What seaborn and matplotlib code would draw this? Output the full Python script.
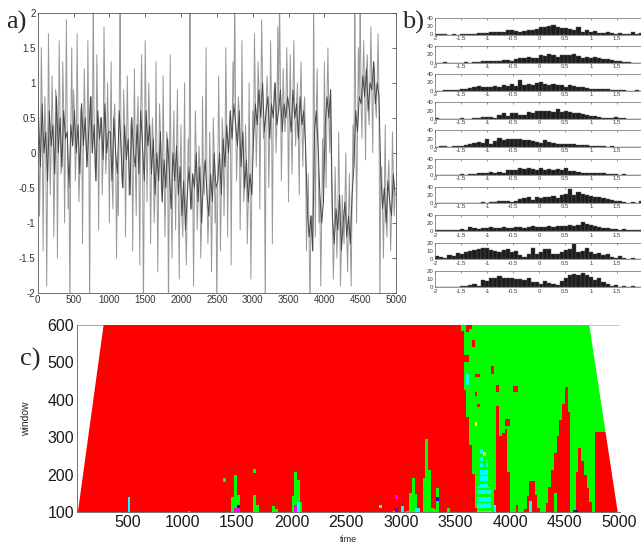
import numpy as np
import pandas as pd
import matplotlib
matplotlib.use('Agg')
import matplotlib.pyplot as plt
from matplotlib.colors import ListedColormap, BoundaryNorm
import seaborn as sns

sns.set_theme(style='white')
plt.rcParams['font.family'] = ['Liberation Sans', 'DejaVu Sans']
plt.rcParams['axes.unicode_minus'] = False

# ---------------- panel a: signal ----------------
# outer samples (every 25 time steps, at t = 0, 25, 50, ...)
seg0 = [1.2, -0.9, 1.5, -1.4, 0.8, -1.9, 1.7, -0.6, 1.1, -1.2, 0.9, -1.5, 1.6, -0.3, 1.3, -1.0, 1.9, -0.8, -2.3, 1.5]
seg1 = [0.9, -0.4, 1.7, -0.7, 0.6, -1.3, 1.2, 0.1, 1.6, -2.3, 0.8, 2.3, -0.2, 1.4, -1.1, 0.5, -0.6, 1.8, -0.3, 1.0]
seg2 = [-1.0, 1.3, -0.8, 0.7, -1.5, -0.9, 2.3, -0.4, 0.9, -1.2, 1.1, -0.6, 0.4, -1.4, 1.2, -0.9, 0.8, -1.6, 1.4, -2.3]
seg3 = [1.6, -0.7, 1.0, -1.3, 0.5, -1.0, 1.3, -1.7, 0.7, -0.5, 1.1, -1.2, 0.3, -2.3, 1.4, -1.5, 0.6, -1.1, 0.9, -1.8]
seg4 = [0.4, -1.2, 1.0, -1.6, 0.2, 2.3, -0.8, -1.9, 0.6, -1.1, 0.1, -1.5, 0.8, -0.6, 1.5, -1.3, 0.3, -1.7, 0.5, -1.0]
seg5 = [-2.3, 1.1, -1.4, 0.5, -0.9, 1.5, -1.2, 0.2, -1.6, 1.3, 2.3, -0.4, 0.8, -1.1, 1.6, -0.7, 0.4, -1.3, 1.0, -1.8]
seg6 = [0.6, 1.7, -0.2, 1.3, -0.8, 1.9, 0.2, -2.3, 1.1, -0.5, 1.6, -1.3, 0.9, 0.0, 1.8, 2.3, -0.4, 1.2, 0.3, 1.5]
seg7 = [-0.7, 1.4, -0.3, 1.6, 0.1, 1.0, -0.6, 1.3, -0.2, 0.8, -1.4, -0.3, -2.3, -0.9, 2.3, -1.2, 1.2, -1.0, -1.9, 0.2]
seg8 = [1.3, -0.5, 1.5, 0.0, -0.4, -1.8, -0.2, -1.5, 0.3, -1.9, -0.6, -1.3, 0.0, -1.7, -0.3, -1.9, 0.4, 2.3, -1.0, 1.5]
seg9 = [2.3, 0.2, 1.6, -0.1, 1.4, 0.4, 1.8, 0.0, 1.2, 0.5, 1.7, -2.3, -0.2, -1.5, 0.4, -1.2, -0.1, -1.4, 0.3, -0.9]
# core samples (at t = 12.5, 37.5, ...)
mid0 = [0.5, -0.2, 0.7, 0.0, 0.3, -0.4, 0.6, 0.1, 0.4, -0.3, 0.8, 0.0, 0.5, -0.2, 0.6, 0.2, 0.3, -0.5, 0.4, 0.1]
mid1 = [0.6, 0.0, 0.4, -0.3, 0.7, 0.1, 0.5, -0.2, 0.3, 0.8, 0.0, 0.4, -0.4, 0.6, 0.2, 0.5, -0.1, 0.7, 0.0, 0.3]
mid2 = [0.3, -0.4, 0.5, 0.0, -0.3, 0.6, 0.1, -0.5, 0.4, -0.1, 0.2, -0.6, 0.5, 0.0, -0.2, 0.4, -0.3, 0.6, 0.1, -0.4]
mid3 = [0.6, 0.1, 0.4, -0.3, 0.2, -0.6, 0.0, -0.4, 0.3, -0.7, -0.1, -0.5, 0.2, -0.3, -0.8, 0.0, -0.4, 0.1, -0.6, -0.2]
mid4 = [-0.9, -0.4, -1.1, -0.6, -0.2, -0.8, -0.3, -0.5, 0.0, -0.7, -0.2, -1.0, -0.4, -0.1, -0.6, -0.9, -0.3, -0.7, 0.0, -0.5]
mid5 = [-0.4, 0.0, -0.6, 0.2, -0.2, 0.4, 0.0, 0.6, 0.2, 0.7, 0.4, 0.1, 0.6, -0.2, 0.3, -0.5, -0.1, -0.7, -0.3, -0.6]
mid6 = [0.2, 0.7, 0.4, 0.9, 0.5, 1.0, 0.3, 0.6, 0.8, 0.2, 0.7, 0.5, 1.0, 0.4, 0.6, 0.9, 0.3, 0.7, 0.5, 0.8]
mid7 = [0.6, 0.3, 0.9, 0.5, 0.7, 0.2, 0.8, 0.4, 0.6, 0.1, -0.8, -1.2, -0.9, -1.4, 0.3, 0.6, 0.1, -0.6, -1.0, -0.7]
mid8 = [0.4, 0.8, 0.5, 0.9, -0.9, -1.3, -0.8, -1.1, -0.6, -1.4, -1.0, -0.7, -1.2, -0.9, -1.3, -0.6, -0.2, 0.6, 0.3, 0.8]
mid9 = [0.7, 1.1, 0.8, 1.2, 0.6, 1.0, 0.9, 1.3, 0.7, 1.0, 0.8, -0.3, -0.8, -0.5, -1.0, -0.4, -0.7, -0.9, -0.3, -0.6]
outer = seg0 + seg1 + seg2 + seg3 + seg4 + seg5 + seg6 + seg7 + seg8 + seg9
core = mid0 + mid1 + mid2 + mid3 + mid4 + mid5 + mid6 + mid7 + mid8 + mid9
signal = [v for pair in zip(outer, core) for v in pair]
sample_step = 12.5
time_a = [i * sample_step for i in range(len(signal))]
time_core = time_a[1::2]

# ---------------- panel b: histogram counts (50 bins from -2 to 2) ----------------
hist_counts = [
    [2, 1, 1, 0, 1, 0, 2, 2, 1, 2, 3, 3, 4, 5, 5, 6, 5, 10, 10, 8, 7, 9, 12, 10, 14,
     19, 17, 20, 22, 17, 15, 16, 14, 12, 17, 7, 10, 5, 9, 4, 4, 5, 3, 2, 4, 1, 1, 5, 2, 3],
    [0, 0, 1, 0, 0, 0, 0, 1, 0, 1, 2, 3, 4, 3, 5, 4, 6, 7, 5, 8, 10, 11, 14, 12, 10,
     18, 17, 20, 19, 14, 18, 18, 19, 20, 16, 12, 14, 10, 13, 11, 9, 8, 6, 4, 3, 2, 1, 0, 0, 0],
    [0, 0, 1, 1, 2, 2, 4, 3, 6, 8, 12, 10, 8, 10, 12, 9, 14, 11, 16, 12, 25, 13, 17, 15, 18,
     20, 17, 15, 16, 14, 15, 10, 14, 11, 9, 8, 6, 4, 5, 3, 4, 3, 2, 1, 1, 1, 0, 0, 1, 0],
    [1, 0, 0, 0, 0, 0, 2, 0, 0, 2, 3, 4, 5, 4, 3, 9, 13, 8, 15, 14, 10, 9, 16, 14, 18,
     19, 20, 18, 16, 24, 17, 20, 16, 14, 15, 11, 9, 7, 6, 4, 3, 2, 3, 4, 1, 1, 0, 0, 0, 0],
    [0, 1, 1, 0, 1, 2, 3, 5, 7, 9, 12, 10, 19, 8, 14, 22, 17, 20, 19, 19, 18, 16, 17, 15, 13,
     10, 17, 12, 9, 8, 7, 6, 7, 8, 5, 4, 5, 2, 3, 1, 2, 0, 1, 0, 0, 0, 0, 0, 0, 0],
    [0, 0, 1, 0, 1, 1, 2, 1, 3, 3, 5, 6, 5, 7, 6, 8, 6, 12, 11, 12, 17, 15, 18, 14, 12,
     18, 13, 15, 12, 14, 11, 16, 9, 10, 7, 6, 5, 6, 4, 4, 4, 3, 2, 2, 1, 2, 1, 0, 1, 0],
    [0, 0, 1, 0, 0, 0, 1, 1, 0, 1, 0, 2, 1, 2, 2, 4, 6, 5, 3, 6, 10, 12, 15, 8, 14,
     12, 16, 14, 18, 12, 20, 22, 35, 20, 26, 22, 19, 18, 15, 14, 12, 10, 8, 6, 4, 3, 1, 2, 0, 6],
    [3, 2, 3, 4, 2, 3, 5, 4, 10, 7, 5, 7, 8, 9, 7, 8, 9, 7, 8, 9, 10, 8, 9, 12, 10,
     9, 10, 12, 11, 13, 12, 13, 14, 12, 15, 22, 17, 14, 13, 11, 8, 7, 6, 5, 4, 5, 4, 3, 3, 2],
    [4, 3, 2, 5, 4, 8, 7, 9, 10, 11, 12, 14, 14, 11, 10, 9, 11, 12, 9, 10, 5, 3, 6, 14, 7,
     9, 13, 13, 7, 6, 9, 11, 12, 19, 9, 10, 14, 9, 7, 8, 5, 6, 3, 2, 4, 1, 0, 1, 0, 0],
    [0, 0, 0, 0, 0, 0, 2, 2, 3, 4, 2, 9, 8, 11, 12, 14, 12, 11, 12, 10, 10, 9, 11, 7, 6,
     4, 8, 5, 4, 3, 8, 12, 15, 16, 15, 17, 15, 13, 9, 12, 6, 4, 2, 3, 1, 2, 1, 2, 0, 0],
]
hist_ymax = [40, 40, 40, 40, 40, 40, 40, 40, 20, 20]
hist_edges = [round(-2 + 0.08 * k, 2) for k in range(51)]
hist_centers = [round(-1.96 + 0.08 * k, 2) for k in range(50)]

# ---------------- panel c: regime map description ----------------
trap_w = [100, 600]
trap_left = [40, 275]
trap_right = [4980, 4720]
bnd_w = [100, 212, 346, 434, 600]          # red -> green boundary
bnd_t = [3690, 3660, 3615, 3585, 3560]
# (peak time, peak window, base left, base right) at window 100
red_spikes = [(3890, 400, 3842, 3960), (3950, 380, 3900, 4010), (4200, 200, 4132, 4269),
              (4530, 466, 4324, 4558), (4620, 298, 4604, 4757)]
red_block = (4772, 314)                    # t >= 4772 and window <= 314
green_spikes = [(1070, 108, 1060, 1085), (1490, 205, 1445, 1530), (1665, 150, 1640, 1700),
                (1845, 125, 1825, 1870), (2045, 225, 1995, 2100), (2950, 115, 2935, 2965),
                (3110, 195, 3060, 3165), (3240, 305, 3190, 3290), (3335, 170, 3310, 3360)]
cyan_spikes = [(3745, 330, 3715, 3780), (3790, 250, 3760, 3830), (3720, 200, 3695, 3755)]
# specks: (time, window from, window to, category)
specks = [(3620, 580, 600, 0), (3660, 540, 560, 0), (3600, 500, 520, 0), (3700, 460, 470, 0),
          (3830, 470, 490, 0), (3890, 420, 440, 0), (3680, 410, 420, 0), (3720, 380, 390, 0),
          (3975, 330, 350, 0), (4050, 420, 435, 0), (3640, 590, 600, 0), (3580, 560, 575, 1),
          (3870, 160, 260, 1), (4420, 100, 150, 1), (4070, 100, 120, 0),
          (1390, 180, 190, 1), (1665, 205, 215, 1), (3440, 100, 110, 1),
          (520, 100, 140, 2), (2060, 100, 125, 2), (3610, 440, 470, 2), (3870, 100, 120, 2),
          (4180, 100, 130, 2), (2810, 110, 120, 2), (3020, 100, 115, 2), (3150, 100, 110, 2),
          (2040, 100, 120, 4), (1500, 100, 110, 4), (2960, 135, 145, 4),
          (1505, 110, 120, 3), (2965, 100, 110, 3), (3330, 130, 140, 3), (4600, 100, 105, 3),
          (3690, 330, 340, 5), (3770, 250, 260, 5)]
regime_colors = ['#ff0000', '#00ff00', '#00ffff', '#1010c0', '#ff00ff', '#ffff00']

# build category grid
t_edges = np.arange(0, 5026, 25)
w_edges = np.arange(100, 601, 2)
tc = (t_edges[:-1] + t_edges[1:]) / 2
wc = (w_edges[:-1] + w_edges[1:]) / 2
T, W = np.meshgrid(tc, wc)
cat = np.zeros(T.shape)
cat[T > np.interp(W, bnd_w, bnd_t)] = 1


def tri_mask(pt, pw, bl, br):
    f = np.clip((W - 100) / (pw - 100), 0, None)
    lo = bl + (pt - bl) * f
    hi = br - (br - pt) * f
    return (W <= pw) & (T >= lo) & (T <= hi)


for s in red_spikes:
    cat[tri_mask(*s)] = 0
cat[(T >= red_block[0]) & (W <= red_block[1])] = 0
for s in green_spikes:
    cat[tri_mask(*s)] = 1
for s in cyan_spikes:
    m = tri_mask(*s)
    cat[m & ((np.round(W / 6) % 3) != 0)] = 2
for (st, w0, w1, c) in specks:
    cat[(np.abs(T - st) <= 12.5) & (W >= w0) & (W <= w1)] = c

# ---------------- figure ----------------
W_PX, H_PX = 641, 545
fig = plt.figure(figsize=(W_PX / 100, H_PX / 100), dpi=100)


def box(x0, y0, x1, y1):
    return [x0 / W_PX, 1 - y1 / H_PX, (x1 - x0) / W_PX, (y1 - y0) / H_PX]


# panel a: full signal in light grey, its core samples traced darker on top
axa = fig.add_axes(box(37.7, 12.7, 396, 293))
sns.lineplot(x=time_a, y=signal, ax=axa, color='0.6', linewidth=0.7, estimator=None)
sns.lineplot(x=time_core, y=core, ax=axa, color='0.28', linewidth=0.7, estimator=None)
axa.set_xlim(0, 5000)
axa.set_ylim(-2, 2)
axa.set_xticks(range(0, 5001, 500))
axa.set_yticks([-2, -1.5, -1, -0.5, 0, 0.5, 1, 1.5, 2])
axa.set_yticklabels(['-2', '-1.5', '-1', '-0.5', '0', '0.5', '1', '1.5', '2'])
axa.tick_params(direction='in', top=True, right=True, labelsize=7, length=3,
                width=0.5, pad=1.5, colors='0.2')
axa.set_xlabel('')
axa.set_ylabel('')
for s in axa.spines.values():
    s.set_linewidth(0.6)
    s.set_color('0.35')

# panel b
for i, counts in enumerate(hist_counts):
    top = 18 + 28.1 * i
    axh = fig.add_axes(box(435, top, 643, top + 16.5))
    dfh = pd.DataFrame({'value': hist_centers, 'count': counts})
    sns.histplot(data=dfh, x='value', weights='count', bins=hist_edges, ax=axh,
                 color='#1c1c1c', edgecolor='#5a5a5a', linewidth=0.3, alpha=1)
    axh.set_xlim(-2, 2)
    axh.set_ylim(0, hist_ymax[i])
    axh.set_xticks([-2, -1.5, -1, -0.5, 0, 0.5, 1, 1.5])
    axh.set_xticklabels(['-2', '-1.5', '-1', '-0.5', '0', '0.5', '1', '1.5'])
    yt = [0, hist_ymax[i] // 2, hist_ymax[i]]
    axh.set_yticks(yt)
    axh.set_yticklabels([str(v) for v in yt])
    axh.tick_params(direction='in', top=True, right=True, labelsize=4.3, length=1.5,
                    width=0.4, pad=1, colors='0.25')
    axh.set_xlabel('')
    axh.set_ylabel('')
    for s in axh.spines.values():
        s.set_linewidth(0.5)
        s.set_color('0.4')

# panel c
axc = fig.add_axes(box(77, 325, 620, 512))
cmap = ListedColormap(regime_colors)
norm = BoundaryNorm(np.arange(-0.5, len(regime_colors) + 0.5, 1), cmap.N)
axc.pcolormesh(t_edges, w_edges, cat, cmap=cmap, norm=norm, shading='flat')
# white-out outside the valid (trapezoid) region with smooth edges
axc.fill_betweenx(trap_w, [0, 0], trap_left, color='white', linewidth=0, zorder=2)
axc.fill_betweenx(trap_w, trap_right, [5100, 5100], color='white', linewidth=0, zorder=2)
axc.set_xlim(37, 5005)
axc.set_ylim(100, 600)
axc.set_xticks(range(500, 5001, 500))
axc.set_yticks(range(100, 601, 100))
axc.tick_params(direction='in', labelsize=11.5, length=3, width=0.6, pad=2, colors='0.1')
axc.spines['top'].set_visible(False)
axc.spines['right'].set_visible(False)
for s in ['left', 'bottom']:
    axc.spines[s].set_linewidth(0.7)
    axc.spines[s].set_color('0.45')
    axc.spines[s].set_zorder(5)
axc.set_xlabel('time', fontsize=6.5)
axc.set_ylabel('window', fontsize=7.5)
axc.xaxis.set_label_coords(0.5, -0.125)
axc.yaxis.set_label_coords(-0.085, 0.5)

# panel labels
fig.text(6 / W_PX, 1 - 29 / H_PX, 'a)', family='Liberation Serif', fontsize=19, va='baseline')
fig.text(402 / W_PX, 1 - 29 / H_PX, 'b)', family='Liberation Serif', fontsize=19, va='baseline')
fig.text(20 / W_PX, 1 - 366 / H_PX, 'c)', family='Liberation Serif', fontsize=19, va='baseline')

fig.savefig('out.png', dpi=100)
